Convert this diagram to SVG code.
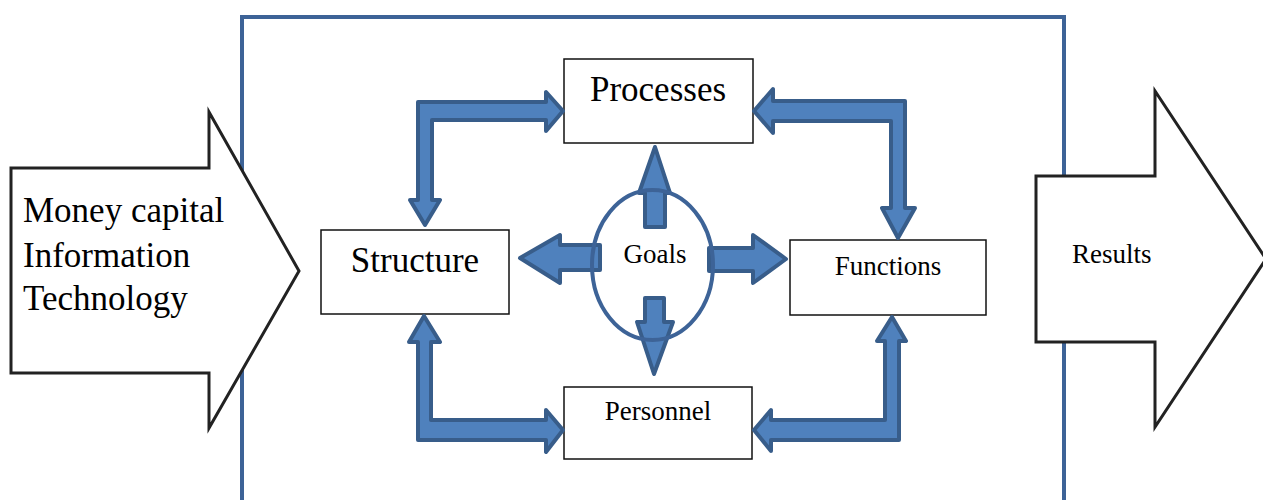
<svg xmlns="http://www.w3.org/2000/svg" width="1263" height="500" viewBox="0 0 1263 500">
<style>
.box{fill:#fff;stroke:#111;stroke-width:1.5}
.big{fill:#fff;stroke:#222;stroke-width:3;stroke-linejoin:miter}
.blk{fill:#4f81bd;stroke:#385d8a;stroke-width:4;stroke-linejoin:round}
.t{font-family:"Liberation Serif","Times New Roman",serif;fill:#000}
.frame{fill:none;stroke:#3d6397;stroke-width:4}
</style>
<rect width="1263" height="500" fill="#fff"/>
<path class="frame" d="M242,505 V17 H1064 V505"/>
<g id="inputs">
<polygon class="big" points="11,168 209,168 209,112 299,271 209,428 209,373 11,373"/>
<text class="t" font-size="35" x="23" y="222">Money capital</text>
<text class="t" font-size="35" x="23" y="267">Information</text>
<text class="t" font-size="35" x="23" y="310">Technology</text>
</g>
<g id="results">
<polygon class="big" points="1036,176 1155,176 1155,91 1266,259 1155,427 1155,342 1036,342"/>
<text class="t" font-size="27" x="1072" y="263">Results</text>
</g>
<g id="processes">
<rect class="box" x="564" y="59" width="189" height="84"/>
<text class="t" font-size="35" x="658" y="101" text-anchor="middle">Processes</text>
</g>
<g id="structure">
<rect class="box" x="321" y="230" width="188" height="84"/>
<text class="t" font-size="35" x="415" y="272" text-anchor="middle">Structure</text>
</g>
<g id="functions">
<rect class="box" x="790" y="240" width="196" height="75"/>
<text class="t" font-size="27" x="888" y="275" text-anchor="middle">Functions</text>
</g>
<g id="personnel">
<rect class="box" x="564" y="387" width="188" height="72"/>
<text class="t" font-size="27" x="658" y="420" text-anchor="middle">Personnel</text>
</g>
<g id="connectors">
<polygon class="blk" points="563,111 546,92 546,102 418,102 418,200 410,200 425,225 440,200 432,200 432,120 546,120 546,131"/>
<polygon class="blk" points="754,111 773,89 773,101 905,101 905,208 915,208 898,238 882,208 891,208 891,121 773,121 773,133"/>
<polygon class="blk" points="424,316 440,342 431,342 431,420 546,420 546,410 563,430 546,452 546,440 418,440 418,342 409,342"/>
<polygon class="blk" points="892,317 906,341 899,341 899,440 771,440 771,451 754,430 771,410 771,420 885,420 885,341 877,341"/>
<polygon class="blk" points="520,258 560,235 560,245 600,245 600,270 560,270 560,283"/>
<polygon class="blk" points="709,248 753,248 753,235 786,259 753,283 753,271 709,271"/>
<polygon class="blk" points="655,147 670,193 665,193 665,227 645,227 645,193 639,193"/>
<polygon class="blk" points="645,298 664,298 664,322 673,322 654,374 637,322 645,322"/>
</g>
<g id="goals">
<ellipse cx="652.5" cy="265" rx="60.5" ry="75" fill="none" stroke="#3d6397" stroke-width="4"/>
<text class="t" font-size="27" x="655" y="263" text-anchor="middle">Goals</text>
</g>
</svg>
